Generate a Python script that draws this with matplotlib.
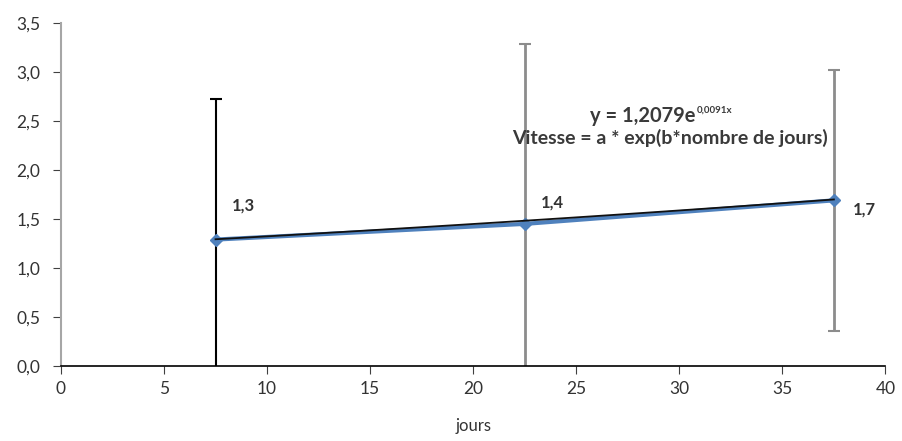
import numpy as np
import matplotlib
matplotlib.use("Agg")
import matplotlib.pyplot as plt
from matplotlib.ticker import FuncFormatter, MultipleLocator

plt.rcParams['font.family'] = ['Lato', 'DejaVu Sans']

# data
jours = [7.5, 22.5, 37.5]
vitesse = [1.29, 1.45, 1.69]
erreur = [1.43, 1.84, 1.33]
bar_colors = ['black', '#8c8c8c', '#8c8c8c']
value_labels = ['1,3', '1,4', '1,7']
label_pos = [(8.3, 1.64), (23.3, 1.67), (38.4, 1.60)]

# exponential trendline (Excel): y = a * exp(b * x)
a_coef = 1.2079
b_coef = 0.0091

fig = plt.figure(figsize=(9.02, 4.41), dpi=100)
ax = fig.add_axes([0.0676, 0.17, 0.914, 0.778])

# error bars
for x, y, e, c in zip(jours, vitesse, erreur, bar_colors):
    ax.errorbar(x, y, yerr=e, fmt='none', ecolor=c, elinewidth=2 if c != 'black' else 1.5,
                capsize=4, capthick=1.5, zorder=2)

# data series
ax.plot(jours, vitesse, color='#4F81BD', linewidth=3, marker='D', markersize=6,
        markerfacecolor='#4F81BD', markeredgecolor='#4F81BD', zorder=3)

# trendline
xt = np.linspace(jours[0], jours[-1], 50)
ax.plot(xt, a_coef * np.exp(b_coef * xt), color='#111111', linewidth=1.3, zorder=4)

# data labels
for (lx, ly), t in zip(label_pos, value_labels):
    ax.text(lx, ly, t, fontsize=12, fontweight='bold', color='#333333', ha='left', va='center')

# equation text
eq = ax.text(25.65, 2.55, 'y = 1,2079e', fontsize=14.5, fontweight='bold', ha='left',
             va='center', color='#3a3a3a')
ax.annotate('0,0091x', xy=(1, 0.8), xycoords=eq, xytext=(1, 0), textcoords='offset points',
            fontsize=7, fontweight='bold', color='#3a3a3a', ha='left', va='center')
ax.text(29.55, 2.33, 'Vitesse = a * exp(b*nombre de jours)', fontsize=14, fontweight='bold',
        ha='center', va='center', color='#3a3a3a')

ax.set_xlim(0, 40)
ax.set_ylim(0, 3.5)
ax.xaxis.set_major_locator(MultipleLocator(5))
ax.yaxis.set_major_locator(MultipleLocator(0.5))
ax.yaxis.set_major_formatter(FuncFormatter(lambda v, p: f"{v:.1f}".replace('.', ',')))

ax.spines[['top', 'right']].set_visible(False)
ax.spines['left'].set_color('#a6a6a6')
ax.spines['left'].set_linewidth(1.5)
ax.spines['bottom'].set_color('black')
ax.spines['bottom'].set_linewidth(1.2)
ax.tick_params(axis='y', direction='out', length=6, color='#404040', labelsize=12.5,
               labelcolor='#333333', pad=9)
ax.tick_params(axis='x', direction='out', length=6, color='#404040', labelsize=12.5,
               labelcolor='#333333', pad=5)

ax.set_xlabel('jours', fontsize=12, color='#333333', labelpad=15)

plt.savefig('out.png', dpi=100)
